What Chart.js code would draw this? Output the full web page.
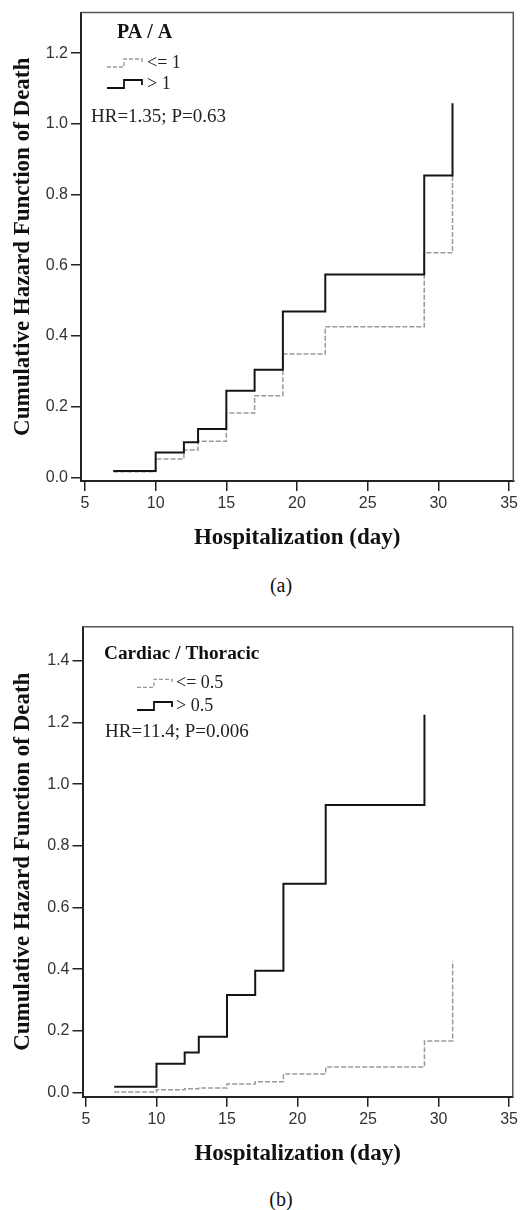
<!DOCTYPE html>
<html><head><meta charset="utf-8">
<script src="https://cdn.jsdelivr.net/npm/chart.js@4"></script>
<style>
html,body{margin:0;padding:0;background:#fff;}
body{width:521px;height:1210px;position:relative;overflow:hidden;}
canvas{position:absolute;left:0;}
.cap{position:absolute;left:231px;width:100px;text-align:center;font:20px "Liberation Serif",serif;line-height:24px;color:#111;}
</style></head>
<body>
<canvas id="ca" width="521" height="560" style="top:0"></canvas>
<div class="cap" style="top:573px">(a)</div>
<canvas id="cb" width="521" height="580" style="top:600px"></canvas>
<div class="cap" style="top:1187px">(b)</div>
<script>
// ---- data ----
const daysA = [7, 10, 12, 13, 15, 17, 19, 22, 29, 31];
const hazardA_gt1 = [0.018, 0.070, 0.099, 0.137, 0.245, 0.304, 0.469, 0.574, 0.854, 1.058];
const hazardA_le1 = [0.016, 0.052, 0.077, 0.102, 0.182, 0.231, 0.349, 0.426, 0.635, 0.855];
const daysB_gt = [7, 10, 12, 13, 15, 17, 19, 22, 29];
const hazardB_gt05 = [0.019, 0.093, 0.130, 0.181, 0.316, 0.395, 0.677, 0.933, 1.225];
const daysB_le = [7, 10, 12, 13, 15, 17, 19, 22, 29, 31];
const hazardB_le05 = [0.002, 0.009, 0.012, 0.015, 0.028, 0.035, 0.060, 0.083, 0.167, 0.427];
const xTickValues = [5, 10, 15, 20, 25, 30, 35];
const yTickValuesA = [0.0, 0.2, 0.4, 0.6, 0.8, 1.0, 1.2];
const yTickValuesB = [0.0, 0.2, 0.4, 0.6, 0.8, 1.0, 1.2, 1.4];
const legendA = ['<= 1', '> 1'];
const legendB = ['<= 0.5', '> 0.5'];
const groupA = 'PA / A';
const groupB = 'Cardiac / Thoracic';
const statA = 'HR=1.35; P=0.63';
const statB = 'HR=11.4; P=0.006';
const xTitle = 'Hospitalization (day)';
const yTitle = 'Cumulative Hazard Function of Death';

const pts = (xs, ys) => xs.map((x, i) => ({x: x, y: ys[i]}));

function drawStep(ctx, x, y, color, dash, w) {
  ctx.save();
  ctx.beginPath();
  ctx.setLineDash(dash);
  ctx.strokeStyle = color; ctx.lineWidth = w;
  ctx.moveTo(x, y + 4); ctx.lineTo(x + 17, y + 4); ctx.lineTo(x + 17, y - 4);
  ctx.lineTo(x + 35, y - 4); ctx.lineTo(x + 35, y + 1);
  ctx.stroke();
  ctx.restore();
}

const overlay = {
  id: 'overlay',
  afterDraw(chart, args, o) {
    const {ctx, chartArea: a} = chart;
    ctx.save();
    ctx.strokeStyle = '#555'; ctx.lineWidth = 1.5;
    ctx.beginPath();
    ctx.moveTo(a.left, a.top); ctx.lineTo(a.right, a.top); ctx.lineTo(a.right, a.bottom);
    ctx.stroke();
    ctx.fillStyle = '#111';
    ctx.textBaseline = 'middle'; ctx.textAlign = 'left';
    ctx.font = 'bold ' + o.titleSize + 'px "Liberation Serif"';
    ctx.fillText(o.title, o.titleX, o.titleY);
    ctx.font = '18px "Liberation Serif"';
    ctx.fillStyle = '#222';
    o.labels.forEach((lab, i) => {
      const y = o.itemY[i];
      if (i === 0) drawStep(ctx, o.iconX, y, '#9a9a9a', [4, 2], 1.3);
      else drawStep(ctx, o.iconX, y, '#111', [], 1.8);
      ctx.fillText(lab, o.textX, y);
    });
    ctx.font = '19px "Liberation Serif"';
    ctx.fillText(o.stat, o.statX, o.statY);
    ctx.restore();
  }
};

function makeChart(id, cfg) {
  const tickFont = {family: '"Liberation Sans"', size: 16};
  const titleFont = {family: '"Liberation Serif"', size: 23, weight: 'bold'};
  return new Chart(document.getElementById(id), {
    type: 'line',
    data: {
      datasets: [
        {label: cfg.labels[1], data: cfg.solid, borderColor: '#151515', borderWidth: 2, stepped: 'before', pointRadius: 0, fill: false, tension: 0},
        {label: cfg.labels[0], data: cfg.dashed, borderColor: '#9a9a9a', borderWidth: 1.5, borderDash: [5, 2], stepped: 'before', pointRadius: 0, fill: false, tension: 0}
      ]
    },
    options: {
      responsive: false, animation: false, devicePixelRatio: 1,
      layout: {padding: cfg.pad},
      plugins: {legend: {display: false}, tooltip: {enabled: false}, overlay: cfg.ov},
      scales: {
        x: {
          type: 'linear', bounds: 'data', min: cfg.xmin, max: cfg.xmax,
          afterBuildTicks: s => { s.ticks = xTickValues.map(v => ({value: v})); },
          afterFit: s => { s.height = cfg.xh; },
          grid: {display: true, drawOnChartArea: false, drawTicks: true, tickLength: 10, color: '#222', lineWidth: 1.5},
          border: {display: true, color: '#222', width: 2},
          ticks: {font: tickFont, color: '#333', padding: 3, maxRotation: 0, autoSkip: false, callback: v => String(v)},
          title: {display: true, text: xTitle, font: titleFont, color: '#111', padding: {top: 0, bottom: cfg.xtPad}}
        },
        y: {
          type: 'linear', bounds: 'data', min: cfg.ymin, max: cfg.ymax,
          afterBuildTicks: s => { s.ticks = cfg.yTicks.map(v => ({value: v})); },
          afterFit: s => { s.width = cfg.yw; },
          grid: {display: true, drawOnChartArea: false, drawTicks: true, tickLength: 10, color: '#222', lineWidth: 1.5},
          border: {display: true, color: '#222', width: 2},
          ticks: {font: tickFont, color: '#333', padding: 3, autoSkip: false, callback: v => Number(v).toFixed(1)},
          title: {display: true, text: yTitle, font: titleFont, color: '#111', padding: {top: 9.2, bottom: 0}}
        }
      }
    },
    plugins: [overlay]
  });
}

makeChart('ca', {
  solid: pts(daysA, hazardA_gt1), dashed: pts(daysA, hazardA_le1), labels: legendA,
  pad: {left: 0, top: 11, right: 5, bottom: 0},
  xmin: 4.719, xmax: 35.30, ymin: -0.0104, ymax: 1.3146, yTicks: yTickValuesA,
  xh: 79, yw: 81, xtPad: 8.2,
  ov: {title: groupA, titleSize: 20, titleX: 117, titleY: 33, labels: legendA, itemY: [63, 84], iconX: 107, textX: 147, stat: statA, statX: 91, statY: 117}
});

makeChart('cb', {
  solid: pts(daysB_gt, hazardB_gt05), dashed: pts(daysB_le, hazardB_le05), labels: legendB,
  pad: {left: 0, top: 26.7, right: 3.3, bottom: 0},
  xmin: 4.755, xmax: 35.26, ymin: -0.0136, ymax: 1.511, yTicks: yTickValuesB,
  xh: 83.3, yw: 82.5, xtPad: 12.2,
  ov: {title: groupB, titleSize: 19.3, titleX: 104, titleY: 54, labels: legendB, itemY: [83.3, 106], iconX: 137, textX: 176, stat: statB, statX: 105, statY: 131.7}
});
</script>
</body></html>
